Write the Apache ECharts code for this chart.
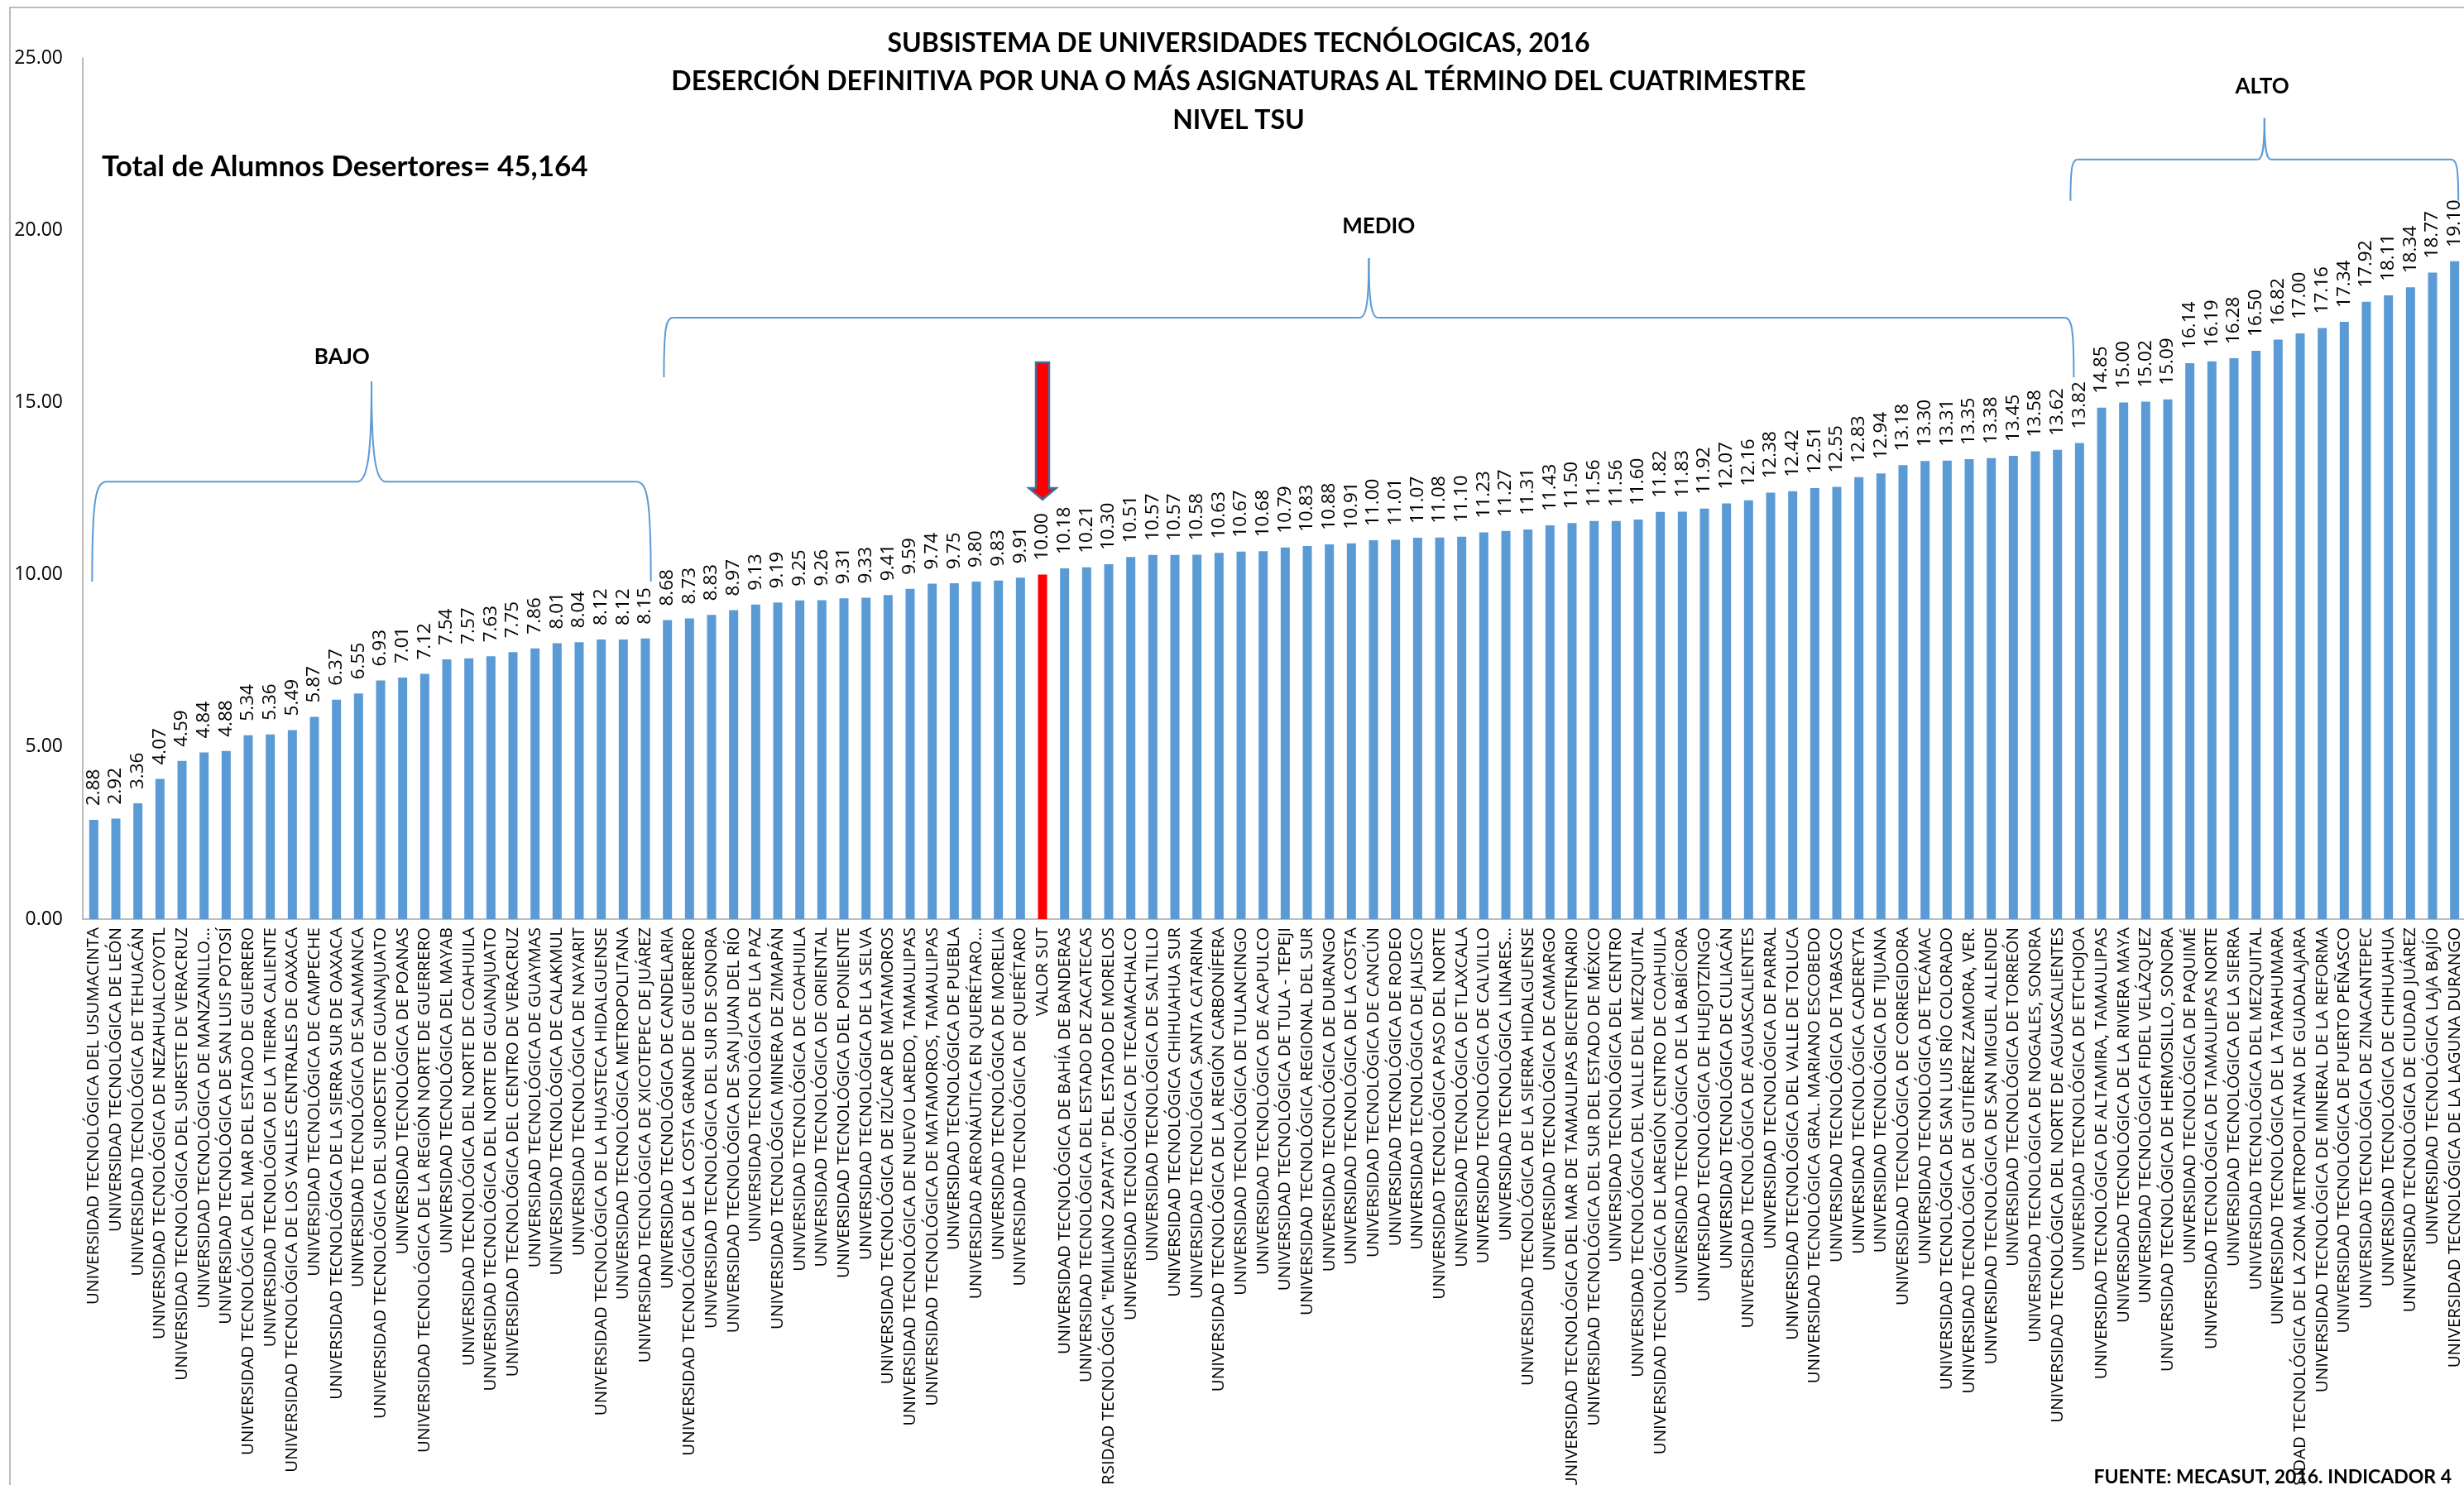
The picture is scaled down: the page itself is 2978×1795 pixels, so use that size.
<!DOCTYPE html>
<html><head><meta charset="utf-8">
<script src="https://cdn.jsdelivr.net/npm/echarts@6/dist/echarts.min.js"></script>
<style>html,body{margin:0;padding:0;background:#fff}#c{width:2978px;height:1795px}</style>
</head><body><div id="c"></div>
<script>
const categories = [
'UNIVERSIDAD TECNOLÓGICA DEL USUMACINTA',
'UNIVERSIDAD TECNOLÓGICA DE LEÓN',
'UNIVERSIDAD TECNOLÓGICA DE TEHUACÁN',
'UNIVERSIDAD TECNOLÓGICA DE NEZAHUALCOYOTL',
'UNIVERSIDAD TECNOLÓGICA DEL SURESTE DE VERACRUZ',
'UNIVERSIDAD TECNOLÓGICA DE MANZANILLO…',
'UNIVERSIDAD TECNOLÓGICA DE SAN LUIS POTOSÍ',
'UNIVERSIDAD TECNOLÓGICA DEL MAR DEL ESTADO DE GUERRERO',
'UNIVERSIDAD TECNOLÓGICA DE LA TIERRA CALIENTE',
'UNIVERSIDAD TECNOLÓGICA DE LOS VALLES CENTRALES DE OAXACA',
'UNIVERSIDAD TECNOLÓGICA DE CAMPECHE',
'UNIVERSIDAD TECNOLÓGICA DE LA SIERRA SUR DE OAXACA',
'UNIVERSIDAD TECNOLÓGICA DE SALAMANCA',
'UNIVERSIDAD TECNOLÓGICA DEL SUROESTE DE GUANAJUATO',
'UNIVERSIDAD TECNOLÓGICA DE POANAS',
'UNIVERSIDAD TECNOLÓGICA DE LA REGIÓN NORTE DE GUERRERO',
'UNIVERSIDAD TECNOLÓGICA DEL MAYAB',
'UNIVERSIDAD TECNOLÓGICA DEL NORTE DE COAHUILA',
'UNIVERSIDAD TECNOLÓGICA DEL NORTE DE GUANAJUATO',
'UNIVERSIDAD TECNOLÓGICA DEL CENTRO DE VERACRUZ',
'UNIVERSIDAD TECNOLÓGICA DE GUAYMAS',
'UNIVERSIDAD TECNOLÓGICA DE CALAKMUL',
'UNIVERSIDAD TECNOLÓGICA DE NAYARIT',
'UNIVERSIDAD TECNOLÓGICA DE LA HUASTECA HIDALGUENSE',
'UNIVERSIDAD TECNOLÓGICA METROPOLITANA',
'UNIVERSIDAD TECNOLÓGICA DE XICOTEPEC DE JUÁREZ',
'UNIVERSIDAD TECNOLÓGICA DE CANDELARIA',
'UNIVERSIDAD TECNOLÓGICA DE LA COSTA GRANDE DE GUERRERO',
'UNIVERSIDAD TECNOLÓGICA DEL SUR DE SONORA',
'UNIVERSIDAD TECNOLÓGICA DE SAN JUAN DEL RÍO',
'UNIVERSIDAD TECNOLÓGICA DE LA PAZ',
'UNIVERSIDAD TECNOLÓGICA MINERA DE ZIMAPÁN',
'UNIVERSIDAD TECNOLÓGICA DE COAHUILA',
'UNIVERSIDAD TECNOLÓGICA DE ORIENTAL',
'UNIVERSIDAD TECNOLÓGICA DEL PONIENTE',
'UNIVERSIDAD TECNOLÓGICA DE LA SELVA',
'UNIVERSIDAD TECNOLÓGICA DE IZÚCAR DE MATAMOROS',
'UNIVERSIDAD TECNOLÓGICA DE NUEVO LAREDO, TAMAULIPAS',
'UNIVERSIDAD TECNOLÓGICA DE MATAMOROS, TAMAULIPAS',
'UNIVERSIDAD TECNOLÓGICA DE PUEBLA',
'UNIVERSIDAD AERONÁUTICA EN QUERÉTARO…',
'UNIVERSIDAD TECNOLÓGICA DE MORELIA',
'UNIVERSIDAD TECNOLÓGICA DE QUERÉTARO',
'VALOR SUT',
'UNIVERSIDAD TECNOLÓGICA DE BAHÍA DE BANDERAS',
'UNIVERSIDAD TECNOLÓGICA DEL ESTADO DE ZACATECAS',
'UNIVERSIDAD TECNOLÓGICA "EMILIANO ZAPATA" DEL ESTADO DE MORELOS',
'UNIVERSIDAD TECNOLÓGICA DE TECAMACHALCO',
'UNIVERSIDAD TECNOLÓGICA DE SALTILLO',
'UNIVERSIDAD TECNOLÓGICA CHIHUAHUA SUR',
'UNIVERSIDAD TECNOLÓGICA SANTA CATARINA',
'UNIVERSIDAD TECNOLÓGICA DE LA REGIÓN CARBONÍFERA',
'UNIVERSIDAD TECNOLÓGICA DE TULANCINGO',
'UNIVERSIDAD TECNOLÓGICA DE ACAPULCO',
'UNIVERSIDAD TECNOLÓGICA DE TULA - TEPEJI',
'UNIVERSIDAD TECNOLÓGICA REGIONAL DEL SUR',
'UNIVERSIDAD TECNOLÓGICA DE DURANGO',
'UNIVERSIDAD TECNOLÓGICA DE LA COSTA',
'UNIVERSIDAD TECNOLÓGICA DE CANCÚN',
'UNIVERSIDAD TECNOLÓGICA DE RODEO',
'UNIVERSIDAD TECNOLÓGICA DE JALISCO',
'UNIVERSIDAD TECNOLÓGICA PASO DEL NORTE',
'UNIVERSIDAD TECNOLÓGICA DE TLAXCALA',
'UNIVERSIDAD TECNOLÓGICA DE CALVILLO',
'UNIVERSIDAD TECNOLÓGICA LINARES…',
'UNIVERSIDAD TECNOLÓGICA DE LA SIERRA HIDALGUENSE',
'UNIVERSIDAD TECNOLÓGICA DE CAMARGO',
'UNIVERSIDAD TECNOLÓGICA DEL MAR DE TAMAULIPAS BICENTENARIO',
'UNIVERSIDAD TECNOLÓGICA DEL SUR DEL ESTADO DE MÉXICO',
'UNIVERSIDAD TECNOLÓGICA DEL CENTRO',
'UNIVERSIDAD TECNOLÓGICA DEL VALLE DEL MEZQUITAL',
'UNIVERSIDAD TECNOLÓGICA DE LAREGIÓN CENTRO DE COAHUILA',
'UNIVERSIDAD TECNOLÓGICA DE LA BABÍCORA',
'UNIVERSIDAD TECNOLÓGICA DE HUEJOTZINGO',
'UNIVERSIDAD TECNOLÓGICA DE CULIACÁN',
'UNIVERSIDAD TECNOLÓGICA DE AGUASCALIENTES',
'UNIVERSIDAD TECNOLÓGICA DE PARRAL',
'UNIVERSIDAD TECNOLÓGICA DEL VALLE DE TOLUCA',
'UNIVERSIDAD TECNOLÓGICA GRAL. MARIANO ESCOBEDO',
'UNIVERSIDAD TECNOLÓGICA DE TABASCO',
'UNIVERSIDAD TECNOLÓGICA CADEREYTA',
'UNIVERSIDAD TECNOLÓGICA DE TIJUANA',
'UNIVERSIDAD TECNOLÓGICA DE CORREGIDORA',
'UNIVERSIDAD TECNOLÓGICA DE TECÁMAC',
'UNIVERSIDAD TECNOLÓGICA DE SAN LUIS RÍO COLORADO',
'UNIVERSIDAD TECNOLÓGICA DE GUTIÉRREZ ZAMORA, VER.',
'UNIVERSIDAD TECNOLÓGICA DE SAN MIGUEL ALLENDE',
'UNIVERSIDAD TECNOLÓGICA DE TORREÓN',
'UNIVERSIDAD TECNOLÓGICA DE NOGALES, SONORA',
'UNIVERSIDAD TECNOLÓGICA DEL NORTE DE AGUASCALIENTES',
'UNIVERSIDAD TECNOLÓGICA DE ETCHOJOA',
'UNIVERSIDAD TECNOLÓGICA DE ALTAMIRA, TAMAULIPAS',
'UNIVERSIDAD TECNOLÓGICA DE LA RIVIERA MAYA',
'UNIVERSIDAD TECNOLÓGICA FIDEL VELÁZQUEZ',
'UNIVERSIDAD TECNOLÓGICA DE HERMOSILLO, SONORA',
'UNIVERSIDAD TECNOLÓGICA DE PAQUIMÉ',
'UNIVERSIDAD TECNOLÓGICA DE TAMAULIPAS NORTE',
'UNIVERSIDAD TECNOLÓGICA DE LA SIERRA',
'UNIVERSIDAD TECNOLÓGICA DEL MEZQUITAL',
'UNIVERSIDAD TECNOLÓGICA DE LA TARAHUMARA',
'UNIVERSIDAD TECNOLÓGICA DE LA ZONA METROPOLITANA DE GUADALAJARA',
'UNIVERSIDAD TECNOLÓGICA DE MINERAL DE LA REFORMA',
'UNIVERSIDAD TECNOLÓGICA DE PUERTO PEÑASCO',
'UNIVERSIDAD TECNOLÓGICA DE ZINACANTEPEC',
'UNIVERSIDAD TECNOLÓGICA DE CHIHUAHUA',
'UNIVERSIDAD TECNOLÓGICA DE CIUDAD JUÁREZ',
'UNIVERSIDAD TECNOLÓGICA LAJA BAJÍO',
'UNIVERSIDAD TECNOLÓGICA DE LA LAGUNA DURANGO'
];

const values = [
2.88, 2.92, 3.36, 4.07, 4.59, 4.84, 4.88, 5.34, 5.36, 5.49,
5.87, 6.37, 6.55, 6.93, 7.01, 7.12, 7.54, 7.57, 7.63, 7.75,
7.86, 8.01, 8.04, 8.12, 8.12, 8.15, 8.68, 8.73, 8.83, 8.97,
9.13, 9.19, 9.25, 9.26, 9.31, 9.33, 9.41, 9.59, 9.74, 9.75,
9.80, 9.83, 9.91, 10.00, 10.18, 10.21, 10.30, 10.51, 10.57, 10.57,
10.58, 10.63, 10.67, 10.68, 10.79, 10.83, 10.88, 10.91, 11.00, 11.01,
11.07, 11.08, 11.10, 11.23, 11.27, 11.31, 11.43, 11.50, 11.56, 11.56,
11.60, 11.82, 11.83, 11.92, 12.07, 12.16, 12.38, 12.42, 12.51, 12.55,
12.83, 12.94, 13.18, 13.30, 13.31, 13.35, 13.38, 13.45, 13.58, 13.62,
13.82, 14.85, 15.00, 15.02, 15.09, 16.14, 16.19, 16.28, 16.50, 16.82,
17.00, 17.16, 17.34, 17.92, 18.11, 18.34, 18.77, 19.10
];

const highlightCategory = 'VALOR SUT';
const yMin = 0, yMax = 25, yInterval = 5;

const titleLines = [
  'SUBSISTEMA DE UNIVERSIDADES TECNÓLOGICAS, 2016',
  'DESERCIÓN DEFINITIVA POR UNA O MÁS ASIGNATURAS AL TÉRMINO DEL CUATRIMESTRE',
  'NIVEL TSU'
];
const totalText = 'Total de Alumnos Desertores= 45,164';
const sourceText = 'FUENTE: MECASUT, 2016. INDICADOR 4';

// Group braces, in data space: category index range and value levels
const braces = [
  {label: 'BAJO',  from: -0.075, to: 25.25, base: 9.80,  arm: 12.70, peak: 15.61, lx: 11.25, ly: 16.31},
  {label: 'MEDIO', from: 25.84,  to: 89.74, base: 15.73, arm: 17.46, peak: 19.19, lx: 58.23, ly: 20.12},
  {label: 'ALTO',  from: 89.59,  to: 107.17, base: 20.85, arm: 22.05, peak: 23.25, lx: 98.28, ly: 24.16}
];
const braceStyle = [{cw: 18, pw: 17}, {cw: 11, pw: 11}, {cw: 9, pw: 8}];
// Arrow pointing at the highlighted category (value levels)
const arrowLevels = {top: 16.16, headBase: 12.51, tip: 12.18};

const BLUE = '#5b9bd5';
const chart = echarts.init(document.getElementById('c'));

const option = {
  animation: false,
  backgroundColor: '#ffffff',
  grid: {left: 100, top: 70, width: 2880, height: 1041, containLabel: false, outerBoundsMode: 'none'},
  xAxis: {
    type: 'category',
    data: categories,
    axisLine: {show: true, lineStyle: {color: '#a6a6a6', width: 1.5}},
    axisTick: {show: false},
    axisLabel: {
      interval: 0, rotate: 90, margin: 10,
      fontFamily: 'Open Sans', fontSize: 20.5, color: '#000'
    }
  },
  yAxis: {
    type: 'value', min: yMin, max: yMax, interval: yInterval,
    axisLine: {show: true, lineStyle: {color: '#a6a6a6', width: 1.5}},
    axisTick: {show: false},
    splitLine: {show: false},
    axisLabel: {
      margin: 24, fontFamily: 'Open Sans', fontSize: 23, color: '#000',
      formatter: v => v.toFixed(2)
    }
  },
  series: [{
    type: 'bar',
    barWidth: 11,
    data: values.map((v, i) => ({
      value: v,
      itemStyle: {color: categories[i] === highlightCategory ? '#ff0000' : BLUE}
    })),
    label: {
      show: true, position: 'top', rotate: 90, align: 'left', verticalAlign: 'middle',
      distance: 17, fontFamily: 'Open Sans', fontSize: 22.5, color: '#000',
      formatter: p => p.value.toFixed(2)
    }
  }]
};
chart.setOption(option);

function P(idx, val) {
  const a = chart.convertToPixel({gridIndex: 0}, [0, val]);
  const b = chart.convertToPixel({gridIndex: 0}, [1, val]);
  return [a[0] + (b[0] - a[0]) * idx, a[1]];
}

const graphics = [];
graphics.push({type: 'rect', shape: {x: 12, y: 9, width: 3100, height: 2000},
  style: {fill: 'none', stroke: '#a6a6a6', lineWidth: 1.5}, silent: true, z: 0});

const titleY = [53, 99, 146];
titleLines.forEach((t, i) => graphics.push({type: 'text', style: {
  x: 1497, y: titleY[i], text: t, align: 'center', verticalAlign: 'middle',
  fontFamily: 'Lato', fontWeight: 'bold', fontSize: 32, fill: '#000'}}));
graphics.push({type: 'text', style: {x: 123, y: 202, text: totalText, align: 'left', verticalAlign: 'middle',
  fontFamily: 'Lato', fontWeight: 'bold', fontSize: 35, fill: '#000'}});
graphics.push({type: 'text', z: 10, style: {x: 2963, y: 1786, text: sourceText, align: 'right', verticalAlign: 'middle',
  fontFamily: 'Lato', fontWeight: 'bold', fontSize: 23, fill: '#000'}});

const braceLine = {fill: 'none', stroke: BLUE, lineWidth: 2};
function bez(x1, y1, cx1, cy1, cx2, cy2, x2, y2) {
  return {type: 'bezierCurve', shape: {x1, y1, cpx1: cx1, cpy1: cy1, cpx2: cx2, cpy2: cy2, x2, y2}, style: braceLine};
}
function seg(x1, y1, x2, y2) {
  return {type: 'line', shape: {x1, y1, x2, y2}, style: braceLine};
}

braces.forEach((b, k) => {
  const s = braceStyle[k];
  const [xL, yB] = P(b.from, b.base);
  const [xR] = P(b.to, b.base);
  const yH = P(0, b.arm)[1];
  const yT = P(0, b.peak)[1];
  const xP = (xL + xR) / 2;
  const h = yB - yH, ph = yH - yT;
  graphics.push(bez(xL, yB, xL, yH + h * 0.15, xL + s.cw * 0.25, yH, xL + s.cw, yH));
  graphics.push(seg(xL + s.cw, yH, xP - s.pw, yH));
  graphics.push(bez(xP - s.pw, yH, xP - s.pw * 0.25, yH, xP, yH - ph * 0.3, xP, yT));
  graphics.push(bez(xP, yT, xP, yH - ph * 0.3, xP + s.pw * 0.25, yH, xP + s.pw, yH));
  graphics.push(seg(xP + s.pw, yH, xR - s.cw, yH));
  graphics.push(bez(xR - s.cw, yH, xR - s.cw * 0.25, yH, xR, yH + h * 0.15, xR, yB));
  const [lx, ly] = P(b.lx, b.ly);
  graphics.push({type: 'text', style: {x: lx, y: ly, text: b.label, align: 'center', verticalAlign: 'middle',
    fontFamily: 'Lato', fontWeight: 'bold', fontSize: 26, fill: '#000'}});
});

const hi = categories.indexOf(highlightCategory);
const [ax, ayTop] = P(hi, arrowLevels.top);
const ayBase = P(hi, arrowLevels.headBase)[1];
const ayTip = P(hi, arrowLevels.tip)[1];
const sw = 8, hw = 16.5;
graphics.push({type: 'polygon', shape: {points: [
  [ax - sw, ayTop], [ax + sw, ayTop], [ax + sw, ayBase], [ax + hw, ayBase],
  [ax, ayTip], [ax - hw, ayBase], [ax - sw, ayBase]]},
  style: {fill: '#ff0000', stroke: '#41719c', lineWidth: 2.5}});

chart.setOption({graphic: graphics});
</script></body></html>
